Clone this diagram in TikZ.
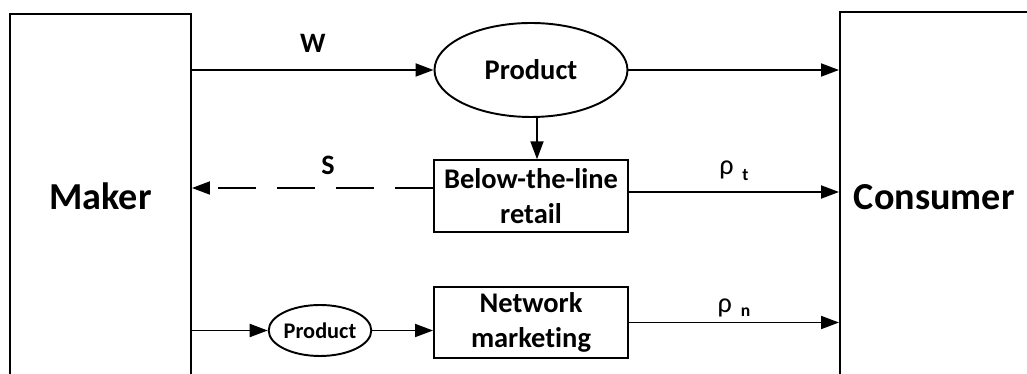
\documentclass[tikz,border=0pt]{standalone}
\usepackage{fontspec}
\setmainfont[Ligatures=NoCommon]{Carlito}
\usetikzlibrary{arrows.meta,shapes.geometric}

\newcommand{\rholbl}[2]{{\mdseries ρ}\hspace{5pt}\raisebox{#2}{\fontsize{10}{10}\selectfont #1}}

\begin{document}
\begin{tikzpicture}[line width=1.1pt,
  party/.style={draw,rectangle,font=\fontsize{21.7}{26}\selectfont\bfseries},
  goods/.style={draw,ellipse,inner sep=0pt},
  channel/.style={draw,rectangle,align=center,minimum width=3.88cm,minimum height=1.43cm,
    font=\fontsize{16.2}{19.5}\selectfont\bfseries},
  arr/.style={-{Triangle[length=0.36cm,width=0.26cm]}},
  lbl/.style={anchor=base,font=\fontsize{16}{19}\selectfont\bfseries}]
  \useasboundingbox (0,0) rectangle (20.54,7.48);
  % the two parties, open at the bottom edge
  \node[party,minimum width=3.62cm,minimum height=7.28cm] (maker) at (2.01,3.56) {Maker};
  \node[party,anchor=north west,minimum height=7.4cm,inner xsep=0.28cm,
        text width=3.86cm,align=left] (consumer) at (16.78,7.26) {Consumer};
  % goods and sales channels
  \node[goods,minimum width=3.86cm,minimum height=1.88cm,
        font=\fontsize{16.2}{19}\selectfont\bfseries] (product) at (10.62,6.08) {Product};
  \node[channel] (retail) at (10.62,3.56) {Below-the-line\\retail};
  \node[channel] (network) at (10.62,1.03) {Network\\marketing};
  \node[goods,minimum width=2.04cm,minimum height=1.02cm,
        font=\fontsize{12.7}{15}\selectfont\bfseries] (product2) at (6.4,0.87) {Product};
  % flows
  \draw[arr] (maker.east |- product.west) -- node[lbl,yshift=0.34cm]{W} (product.west);
  \draw[arr] (product.east) -- (product.east -| consumer.west);
  \draw[arr] ([xshift=0.12cm]product.south) -- ([xshift=0.12cm]retail.north);
  \draw[arr,dash pattern=on 0.76cm off 0.42cm] ([yshift=0.16cm]retail.west)
        -- node[lbl,pos=0.436,yshift=0.26cm]{S} ([yshift=0.16cm]retail.west -| maker.east);
  \draw[arr] ([yshift=0.08cm]retail.east)
        -- node[lbl,yshift=0.34cm]{\rholbl{t}{-0.12cm}} ([yshift=0.08cm]retail.east -| consumer.west);
  \draw[arr] (network.east) -- node[lbl,yshift=0.2cm]{\rholbl{n}{-0.08cm}} (network.east -| consumer.west);
  \draw[arr] (maker.east |- product2.west) -- (product2.west);
  \draw[arr] (product2.east) -- (product2.east -| network.west);
\end{tikzpicture}
\end{document}
